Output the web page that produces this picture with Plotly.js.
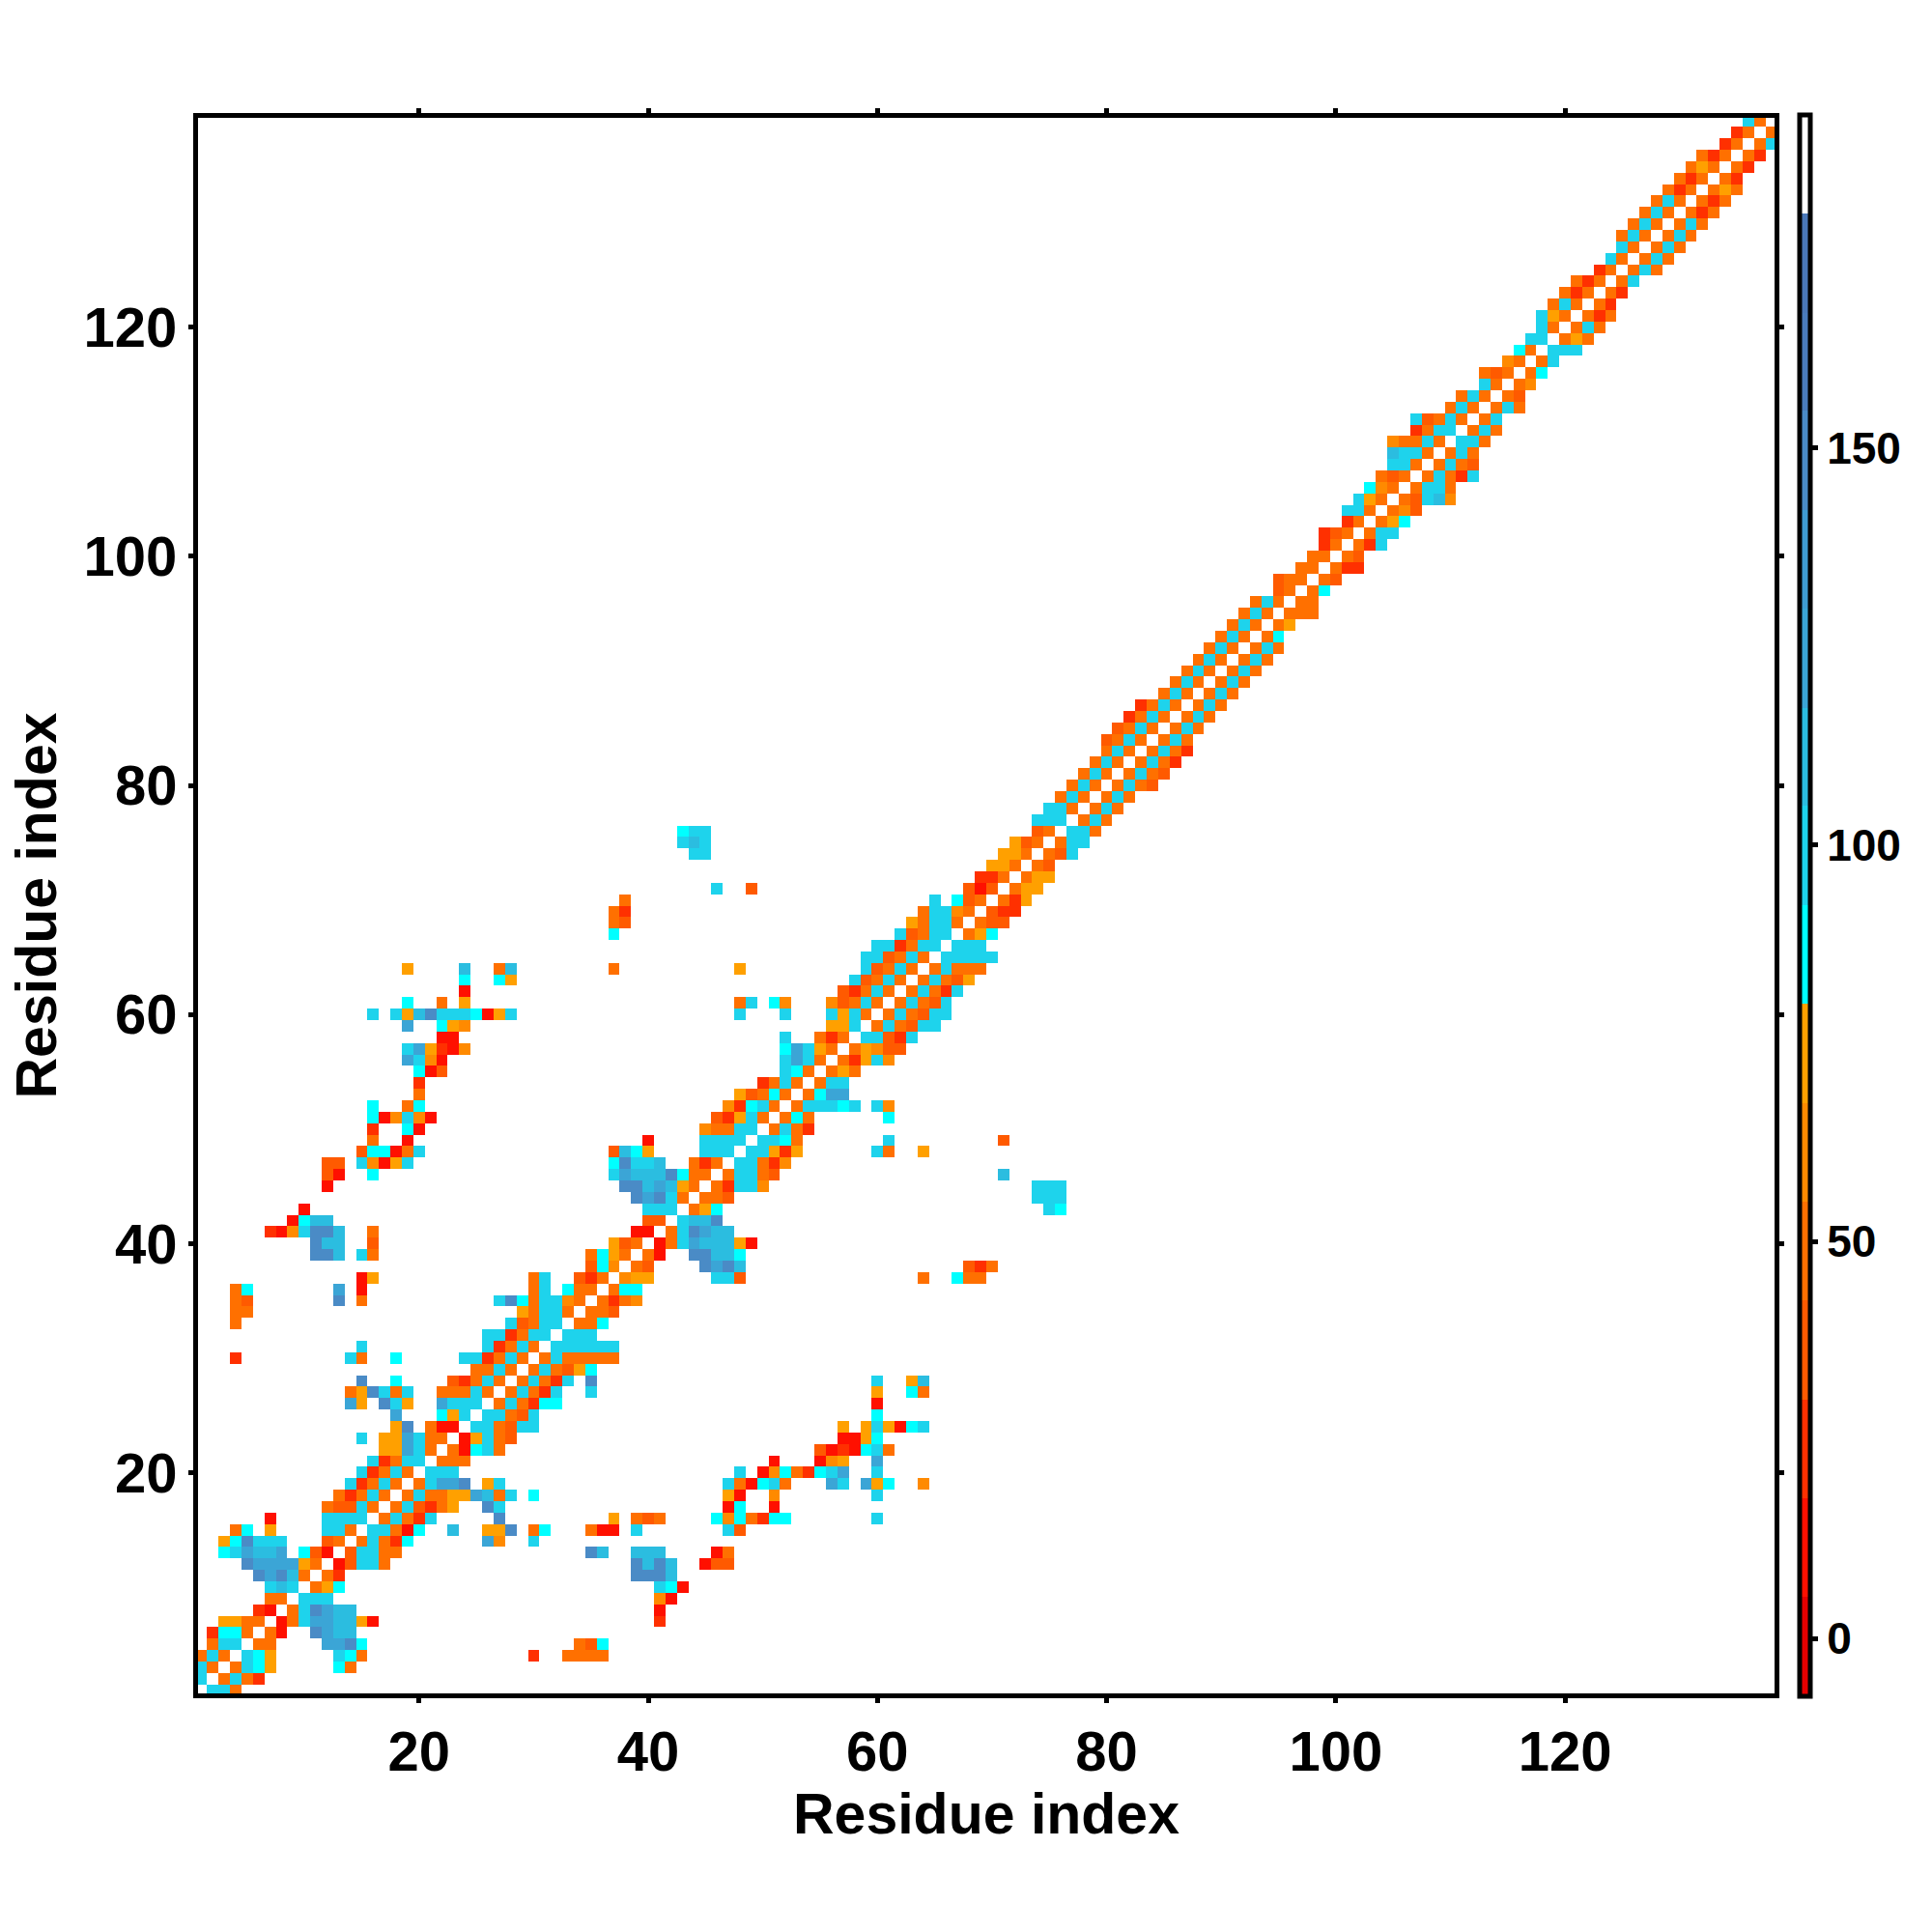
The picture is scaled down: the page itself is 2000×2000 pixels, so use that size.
<!DOCTYPE html>
<html>
<head>
<meta charset="utf-8">
<script src="https://cdn.plot.ly/plotly-3.0.1.min.js"></script>
<style>html,body{margin:0;padding:0;background:#fff}</style>
</head>
<body>
<div id="chart" style="width:2000px;height:2000px"></div>
<script>
// Tick labels
const axisTicks = [20, 40, 60, 80, 100, 120];
const barTicks = [0, 50, 100, 150];
// Colour level edges and colours
const levelEdges = [-7.3, 5.2, 17.7, 30.1, 42.6, 55, 67.5, 80, 92.4, 104.9, 117.3, 129.8, 142.2, 154.7, 167.1, 179.6, 192];
const levelColors = ['#e60000','#ff1000','#ff3000','#ff5a00','#ff7000','#ff8a00','#ffa000','#00ffff','#1ed3ec','#2bbde0','#3ba5d6','#3f9cd2','#4a8bc6','#4a7cbc','#4a78b8','#ffffff'];
// Value read for each cell code ('.' = no value)
const codeLetters = ['r','R','d','o','O','a','c','b','m','n','B'];
const codeValues  = [11.5,24,36,49,61,74,86,99,111,124,148];
// Row values: entry n is residue n+1; each group is "firstColumn:cells"
const contactRows = [
"2:bbo",
"1:b.oboR",
"1:bo.obca 13:co",
"1:obo.bca 13:bco 30:R 33:oooo",
"2:obb.oo 12:nnBc 34:odc",
"2:Rcco.or 11:Bnmm",
"3:aaoo.robnnmmar 41:R",
"6:Rr.obBnmm 41:r",
"7:oo.bbb 41:Or",
"7:bmb.oac 41:bcr",
"6:BnBmo.oR 39:BBBm",
"5:Bnnnnao.rdbbo 39:BmBm 45:rdd",
"3:cbnmmn 10:cdr.dbboo 35:Bm 39:mmm 46:ro",
"3:acBbbb 12:do.oboRc 26:nO 30:b",
"4:oc 7:a 12:bbo.bborc 23:m 26:aaB 30:oc 35:orr 39:b 47:bd",
"7:r 12:bbbb.oboRb 27:B 37:a 39:odo 46:cOcoRcc 60:b",
"12:oddbo.obdRoa 26:Bb 47:rc 51:r",
"13:oRobo.obooaanmob 30:c 47:ar 51:O 60:b",
"14:bRobo.obnnB 26:ab 47:borcbo 56:nb 59:nac 64:O",
"15:bRobo.bbb 48:b 50:rOcoRcbn 60:b",
"16:bRobb.ooo 51:r 55:rOa 60:n",
"17:aanbo.orcbo 55:drRrcbo",
"15:b 17:aanboo.rabod 57:rrac",
"18:aB 21:orr.bbodbb 57:a 59:abarcb",
"18:n 22:cab.bbodb 60:c",
"14:na 17:Bba 22:nbbb.oboRcc 60:r",
"14:oaBbob 22:ooobo.oboRb 35:b 60:a 63:co",
"15:B 18:c 23:dRobo.oboRb 35:B 60:b 63:am",
"25:oobo.obodac",
"4:R 14:bo 18:c 24:bbRobo.obooooo",
"15:b 26:bRobo.bbbbbb",
"26:bbRobb.bbb",
"4:o 28:bdobb.ooc",
"4:oo 29:aobbo.ood",
"4:od 13:B 15:o 27:bBcobbOo.oRoO",
"4:oc 13:n 15:r 30:ob 33:coo.occ",
"15:ra 30:ob 34:dRo.Oaa 46:bbd 64:o 67:coo",
"35:dcO.od 45:BnBm 68:dRo",
"11:BBm 15:bo 35:ocao.or 44:BBmmc",
"11:Bmm 16:d 37:ado.robnmmmar",
"7:RrObBBm 16:o 39:rr.obBnmm",
"9:rcmm 40:dd.bmmB",
"10:r 40:bbb.oac 75:bc",
"39:BnBbo.ood 74:bbb",
"12:r 38:BBmnmao.oRbbO 74:bbb",
"12:dr 16:c 37:bnmmmBcoo.obbod 71:m",
"12:dd 15:bOrab 37:cBbbm 44:oRo.bboRO",
"15:dccrob 37:dmca 45:bbb.bbaRa 60:bo 64:a",
"16:o 19:r 40:r 45:bbbb.bbco 61:b 71:d",
"16:R 19:cr 45:Ooobb.oboR",
"16:crObOr 46:dRabo.oco 61:c",
"16:c 19:oc 47:ORcbo.obbbcb 60:bO",
"20:o 48:adoco.ocnn",
"20:R 50:Robo.obb",
"20:crd 52:bco.oao",
"19:nbOr 52:bnbo.oRabO",
"19:bnaRrO 52:cnbao.oaOdd",
"22:rr 52:b 55:oRo.bbdRb",
"19:n 22:caO 56:aab.obodbb",
"16:b 18:bamBbbbcrab 48:b 52:b 56:babo.obodbb",
"19:c 22:o 24:a 48:ob 51:cO 56:Odobo.obodb",
"24:r 57:dRobo.oboRb",
"24:c 27:ca 58:bdobo.oboda",
"19:a 24:m 27:om 37:o 48:a 59:bdobo.obooo",
"59:bbdobo.bbbbb",
"60:bbRobb.bbb",
"37:c 62:bdobb.oac",
"37:od 63:aobbo.odd",
"37:oR 64:obbOo.dRR",
"38:o 65:b 67:cdo.oRa",
"46:b 49:d 68:drd.oaa",
"69:RRo.oaa",
"70:aao.od",
"44:bb 71:aao.odb",
"43:bmb 72:ado.obb",
"43:cbb 74:do.bbo",
"74:bbb.obo",
"75:bbo.obo",
"76:obo.obo",
"77:obo.obod",
"78:obo.obod",
"79:obo.oboR",
"80:obo.oboR",
"80:dobo.obo",
"81:dobo.obo",
"82:Robo.obo",
"83:Robo.obo",
"85:obo.obo",
"86:obo.obo",
"87:obo.obo",
"88:obo.obo",
"89:obo.obo",
"90:obo.oc",
"91:obo.oa",
"92:obo.ooo",
"93:obo.oo",
"95:do.oc",
"95:doo.od",
"97:oo.oRR",
"98:oo.od",
"99:Ro.oRb",
"99:Rdo.obb",
"101:Ro.oac",
"101:bbo.oOd",
"102:bao.odbmO",
"103:cOo.obbo",
"104:odo.oboRb",
"105:bbo.obod",
"105:mbbo.obo",
"105:Ooobo.bbo",
"107:Robb.obo",
"107:bdobo.ob",
"110:obo.obo",
"111:obo.od",
"113:bo.oO",
"113:odo.oc",
"115:Oo.ob",
"116:co.bbb",
"117:bb.oao",
"118:bo.obo",
"118:bao.oRo",
"119:obo.oR",
"120:oRo.oR",
"121:oRo.ob",
"123:Ro.obo",
"124:bo.obo",
"125:bo.obo",
"125:obo.obo",
"126:obo.obo",
"127:obo.oRo",
"128:obo.oRo",
"129:oRo.oao",
"130:oRo.oR",
"131:oao.oR",
"132:oRo.oR",
"134:Ro.ob",
"135:Ro.o",
"136:bo."
];

const residues = contactRows.map((_, i) => i + 1);
const z = contactRows.map(row => {
  const line = residues.map(() => null);
  row.split(' ').forEach(group => {
    const [first, cells] = group.split(':');
    [...cells].forEach((code, k) => {
      const at = codeLetters.indexOf(code);
      if (at >= 0) line[+first - 1 + k] = codeValues[at];
    });
  });
  return line;
});

const zMin = levelEdges[0], zMax = levelEdges[levelEdges.length - 1];
const colorscale = [];
levelColors.forEach((c, i) => {
  colorscale.push([(levelEdges[i] - zMin) / (zMax - zMin), c]);
  colorscale.push([(levelEdges[i + 1] - zMin) / (zMax - zMin), c]);
});

const FONT = 'Liberation Sans, Arial, sans-serif';
const axisBase = {
  tickmode: 'array', tickvals: axisTicks, ticktext: axisTicks.map(String),
  ticks: 'outside', ticklen: 5, tickwidth: 5, tickcolor: '#000',
  showline: true, linewidth: 5, linecolor: '#000', mirror: 'ticks',
  showgrid: false, zeroline: false,
  tickfont: {family: FONT, size: 58, weight: 700, color: '#000'},
  automargin: false
};

Plotly.newPlot('chart', [{
  type: 'heatmap', x: residues, y: residues, z: z,
  zmin: zMin, zmax: zMax, zauto: false, colorscale: colorscale, hoverongaps: false,
  xgap: 0, ygap: 0,
  colorbar: {
    xref: 'container', x: 0.93125, xanchor: 'left', xpad: 0, ypad: 0,
    yref: 'paper', y: 0.5, yanchor: 'middle',
    thicknessmode: 'pixels', thickness: 11, lenmode: 'pixels', len: 1637,
    outlinewidth: 5, outlinecolor: '#000', borderwidth: 0,
    tickmode: 'array', tickvals: barTicks, ticktext: barTicks.map(String),
    ticks: 'outside', ticklen: 6, tickwidth: 5, tickcolor: '#000',
    tickfont: {family: FONT, size: 46, weight: 700, color: '#000'}
  }
}], {
  width: 2000, height: 2000, paper_bgcolor: '#fff', plot_bgcolor: '#fff',
  margin: {l: 205, r: 162.5, t: 121.5, b: 246.5, pad: 0},
  showlegend: false,
  xaxis: Object.assign({}, axisBase, {
    range: [0.71, 138.29],
    title: {text: 'Residue index', standoff: 10, font: {family: FONT, size: 59, weight: 700, color: '#000'}}
  }),
  yaxis: Object.assign({}, axisBase, {
    range: [0.71, 138.29],
    title: {text: 'Residue index', standoff: 10, font: {family: FONT, size: 59, weight: 700, color: '#000'}}
  })
}, {displayModeBar: false, responsive: false});
</script>
</body>
</html>
